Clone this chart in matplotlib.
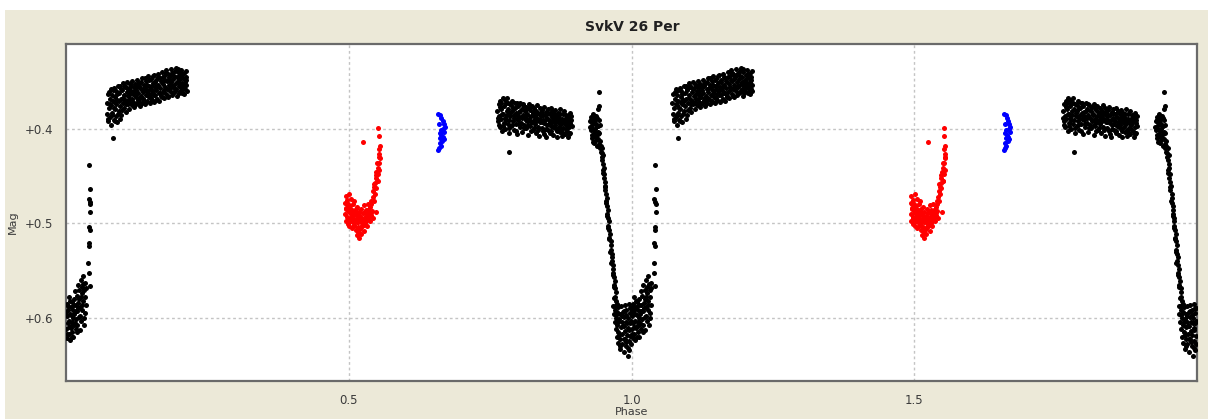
import numpy as np
import matplotlib
matplotlib.use("Agg")
import matplotlib.pyplot as plt
from matplotlib.patches import Rectangle

# Phase-folded light curve of SvkV 26 Per, phases in [0, 1), (phase, mag)
# Primary minimum, wrapping across phase 0
trough = [
    (0.968, 0.588), (0.969, 0.596), (0.970, 0.605), (0.971, 0.592), (0.972, 0.612),
    (0.973, 0.600), (0.974, 0.620), (0.975, 0.594), (0.975, 0.608), (0.976, 0.627),
    (0.977, 0.589), (0.977, 0.615), (0.978, 0.601), (0.979, 0.633), (0.980, 0.596),
    (0.980, 0.622), (0.981, 0.610), (0.982, 0.588), (0.983, 0.628), (0.983, 0.604),
    (0.984, 0.617), (0.985, 0.594), (0.986, 0.636), (0.986, 0.609), (0.987, 0.599),
    (0.988, 0.623), (0.988, 0.587), (0.989, 0.614), (0.990, 0.604), (0.991, 0.630),
    (0.991, 0.592), (0.992, 0.618), (0.993, 0.640), (0.993, 0.600), (0.994, 0.611),
    (0.995, 0.625), (0.995, 0.585), (0.996, 0.634), (0.997, 0.606), (0.997, 0.595),
    (0.998, 0.619), (0.999, 0.628), (0.999, 0.590),
    (0.9725, 0.597), (0.9745, 0.585), (0.9765, 0.604), (0.9785, 0.618), (0.9805, 0.630),
    (0.9825, 0.598), (0.9845, 0.609), (0.9865, 0.622), (0.9875, 0.593), (0.9895, 0.626),
    (0.9905, 0.597), (0.9925, 0.606), (0.9945, 0.632), (0.9955, 0.613), (0.9965, 0.590),
    (0.9985, 0.603),
    (0.000, 0.612), (0.001, 0.598), (0.002, 0.621), (0.002, 0.585), (0.003, 0.606),
    (0.004, 0.592), (0.005, 0.617), (0.005, 0.578), (0.006, 0.603), (0.007, 0.624),
    (0.008, 0.589), (0.008, 0.611), (0.009, 0.597), (0.010, 0.583), (0.011, 0.615),
    (0.011, 0.604), (0.012, 0.592), (0.013, 0.620), (0.014, 0.580), (0.014, 0.608),
    (0.015, 0.596), (0.016, 0.572), (0.017, 0.612), (0.017, 0.586), (0.018, 0.601),
    (0.019, 0.577), (0.020, 0.593), (0.020, 0.608), (0.021, 0.565), (0.022, 0.584),
    (0.023, 0.599), (0.023, 0.571), (0.024, 0.613), (0.025, 0.589), (0.026, 0.560),
    (0.026, 0.578), (0.027, 0.603), (0.028, 0.567), (0.029, 0.592), (0.030, 0.556),
    (0.030, 0.582), (0.031, 0.608), (0.032, 0.571), (0.033, 0.595), (0.034, 0.563),
    (0.035, 0.586),
    (0.0005, 0.594), (0.0015, 0.617), (0.0035, 0.588), (0.0045, 0.610), (0.0065, 0.596),
    (0.0075, 0.582), (0.0095, 0.609), (0.0105, 0.620), (0.0125, 0.600), (0.0135, 0.587),
    (0.0155, 0.606), (0.0175, 0.593), (0.0195, 0.615), (0.0215, 0.590), (0.0235, 0.580),
    (0.0255, 0.598), (0.0275, 0.574), (0.0285, 0.587), (0.0305, 0.564), (0.0325, 0.600),
    (0.0335, 0.578), (0.0345, 0.569),
]

# Fast rise out of the minimum
rise = [
    (0.041, 0.438), (0.043, 0.464), (0.040, 0.474), (0.042, 0.477), (0.043, 0.480),
    (0.043, 0.488), (0.041, 0.504), (0.042, 0.507), (0.040, 0.521), (0.041, 0.524),
    (0.039, 0.542), (0.040, 0.553), (0.042, 0.566),
]

# Maximum after the primary minimum
maximum = [
    (0.072, 0.372), (0.073, 0.384), (0.074, 0.363), (0.075, 0.392), (0.076, 0.378),
    (0.077, 0.368), (0.078, 0.387), (0.079, 0.358), (0.080, 0.396), (0.080, 0.375),
    (0.081, 0.364), (0.082, 0.383), (0.083, 0.410), (0.083, 0.370), (0.084, 0.390),
    (0.085, 0.357), (0.086, 0.379), (0.087, 0.366), (0.088, 0.386), (0.088, 0.360),
    (0.089, 0.374), (0.090, 0.393), (0.091, 0.369), (0.092, 0.355), (0.093, 0.381),
    (0.094, 0.362), (0.095, 0.376), (0.096, 0.354), (0.097, 0.368), (0.098, 0.385),
    (0.099, 0.359), (0.100, 0.373), (0.101, 0.351), (0.102, 0.364), (0.103, 0.378),
    (0.104, 0.356), (0.105, 0.369), (0.106, 0.382), (0.107, 0.361), (0.108, 0.350),
    (0.109, 0.374), (0.110, 0.365), (0.111, 0.357), (0.112, 0.379), (0.113, 0.352),
    (0.114, 0.368), (0.115, 0.360), (0.116, 0.375), (0.117, 0.349), (0.118, 0.363),
    (0.119, 0.371), (0.120, 0.356), (0.121, 0.377), (0.122, 0.352), (0.123, 0.366),
    (0.124, 0.359), (0.125, 0.373), (0.126, 0.348), (0.127, 0.362), (0.128, 0.369),
    (0.129, 0.355), (0.130, 0.376), (0.131, 0.351), (0.132, 0.365), (0.133, 0.358),
    (0.134, 0.372), (0.135, 0.346), (0.136, 0.361), (0.137, 0.368), (0.138, 0.353),
    (0.139, 0.374), (0.140, 0.357), (0.141, 0.364), (0.142, 0.349), (0.143, 0.370),
    (0.144, 0.360), (0.145, 0.344), (0.146, 0.366), (0.147, 0.354), (0.148, 0.373),
    (0.149, 0.358), (0.150, 0.347), (0.151, 0.363), (0.152, 0.369), (0.153, 0.351),
    (0.154, 0.360), (0.155, 0.343), (0.156, 0.371), (0.157, 0.356), (0.158, 0.364),
    (0.159, 0.348), (0.160, 0.359), (0.161, 0.368), (0.162, 0.342), (0.163, 0.353),
    (0.164, 0.362), (0.165, 0.370), (0.166, 0.346), (0.167, 0.357), (0.168, 0.365),
    (0.169, 0.350), (0.170, 0.340), (0.171, 0.361), (0.172, 0.352), (0.173, 0.367),
    (0.174, 0.344), (0.175, 0.356), (0.176, 0.338), (0.177, 0.363), (0.178, 0.349),
    (0.179, 0.358), (0.180, 0.342), (0.181, 0.366), (0.182, 0.353), (0.183, 0.345),
    (0.184, 0.360), (0.185, 0.336), (0.186, 0.350), (0.187, 0.364), (0.188, 0.341),
    (0.189, 0.356), (0.190, 0.347), (0.191, 0.361), (0.192, 0.339), (0.193, 0.352),
    (0.194, 0.335), (0.195, 0.358), (0.196, 0.345), (0.197, 0.365), (0.198, 0.340),
    (0.199, 0.354), (0.200, 0.348), (0.201, 0.360), (0.202, 0.343), (0.203, 0.356),
    (0.204, 0.338), (0.205, 0.351), (0.206, 0.362), (0.207, 0.346), (0.208, 0.355),
    (0.209, 0.341), (0.210, 0.350), (0.211, 0.358), (0.212, 0.345), (0.213, 0.353),
    (0.0745, 0.389), (0.0765, 0.361), (0.0785, 0.374), (0.0805, 0.385), (0.0825, 0.359),
    (0.0845, 0.378), (0.0865, 0.392), (0.0875, 0.371), (0.0895, 0.363), (0.0915, 0.384),
    (0.0935, 0.370), (0.0955, 0.389), (0.0975, 0.358), (0.0995, 0.380), (0.1015, 0.367),
    (0.1035, 0.355), (0.1055, 0.374), (0.1075, 0.370), (0.1095, 0.358), (0.1115, 0.372),
    (0.1135, 0.363), (0.1155, 0.354), (0.1175, 0.368), (0.1195, 0.360), (0.1215, 0.364),
    (0.1235, 0.374), (0.1255, 0.356), (0.1275, 0.352), (0.1295, 0.367), (0.1315, 0.372),
    (0.1335, 0.350), (0.1355, 0.368), (0.1375, 0.357), (0.1395, 0.346), (0.1415, 0.371),
    (0.1435, 0.353), (0.1455, 0.362), (0.1475, 0.348), (0.1495, 0.367), (0.1515, 0.355),
    (0.1535, 0.344), (0.1555, 0.364), (0.1575, 0.350), (0.1595, 0.369), (0.1615, 0.355),
    (0.1635, 0.345), (0.1655, 0.362), (0.1675, 0.349), (0.1695, 0.366), (0.1715, 0.345),
    (0.1735, 0.359), (0.1755, 0.348), (0.1775, 0.341), (0.1795, 0.365), (0.1815, 0.347),
    (0.1835, 0.357), (0.1855, 0.343), (0.1875, 0.355), (0.1895, 0.362), (0.1915, 0.344),
    (0.1935, 0.360), (0.1955, 0.350), (0.1975, 0.337), (0.1995, 0.362), (0.2015, 0.352),
    (0.2035, 0.346), (0.2055, 0.342), (0.2075, 0.358), (0.2095, 0.363), (0.2115, 0.348),
    (0.2125, 0.339), (0.2135, 0.360),
]

# Plateau before the primary minimum
plateau = [
    (0.763, 0.381), (0.764, 0.392), (0.765, 0.374), (0.766, 0.386), (0.767, 0.398),
    (0.768, 0.370), (0.769, 0.389), (0.770, 0.379), (0.771, 0.402), (0.772, 0.367),
    (0.773, 0.384), (0.774, 0.394), (0.775, 0.376), (0.776, 0.388), (0.777, 0.400),
    (0.778, 0.372), (0.779, 0.385), (0.780, 0.367), (0.781, 0.395), (0.782, 0.379),
    (0.783, 0.424), (0.783, 0.390), (0.784, 0.404), (0.785, 0.374), (0.786, 0.386),
    (0.787, 0.397), (0.788, 0.381), (0.789, 0.370), (0.790, 0.392), (0.791, 0.378),
    (0.792, 0.401), (0.793, 0.385), (0.794, 0.373), (0.795, 0.395), (0.796, 0.383),
    (0.797, 0.389), (0.798, 0.405), (0.799, 0.376), (0.800, 0.391), (0.801, 0.382),
    (0.802, 0.398), (0.803, 0.372), (0.804, 0.387), (0.805, 0.394), (0.806, 0.379),
    (0.807, 0.403), (0.808, 0.385), (0.809, 0.375), (0.810, 0.396), (0.811, 0.388),
    (0.812, 0.381), (0.813, 0.399), (0.814, 0.377), (0.815, 0.392), (0.816, 0.384),
    (0.817, 0.406), (0.818, 0.374), (0.819, 0.389), (0.820, 0.397), (0.821, 0.380),
    (0.822, 0.393), (0.823, 0.386), (0.824, 0.376), (0.825, 0.401), (0.826, 0.383),
    (0.827, 0.391), (0.828, 0.378), (0.829, 0.395), (0.830, 0.387), (0.831, 0.404),
    (0.832, 0.381), (0.833, 0.375), (0.834, 0.398), (0.835, 0.389), (0.836, 0.384),
    (0.837, 0.407), (0.838, 0.378), (0.839, 0.393), (0.840, 0.386), (0.841, 0.399),
    (0.842, 0.380), (0.843, 0.390), (0.844, 0.402), (0.845, 0.377), (0.846, 0.394),
    (0.847, 0.385), (0.848, 0.408), (0.849, 0.382), (0.850, 0.396), (0.851, 0.388),
    (0.852, 0.379), (0.853, 0.401), (0.854, 0.391), (0.855, 0.384), (0.856, 0.404),
    (0.857, 0.378), (0.858, 0.397), (0.859, 0.387), (0.860, 0.393), (0.861, 0.382),
    (0.862, 0.406), (0.863, 0.389), (0.864, 0.396), (0.865, 0.380), (0.866, 0.400),
    (0.867, 0.386), (0.868, 0.409), (0.869, 0.392), (0.870, 0.383), (0.871, 0.398),
    (0.872, 0.388), (0.873, 0.403), (0.874, 0.379), (0.875, 0.395), (0.876, 0.390),
    (0.877, 0.407), (0.878, 0.384), (0.879, 0.399), (0.880, 0.392), (0.881, 0.381),
    (0.882, 0.405), (0.883, 0.389), (0.884, 0.396), (0.885, 0.385), (0.886, 0.402),
    (0.887, 0.393), (0.888, 0.408), (0.889, 0.387), (0.890, 0.398), (0.891, 0.383),
    (0.892, 0.404), (0.893, 0.391), (0.894, 0.397),
    (0.7635, 0.388), (0.7655, 0.396), (0.7675, 0.377), (0.7695, 0.372), (0.7715, 0.384),
    (0.7735, 0.397), (0.7755, 0.369), (0.7775, 0.391), (0.7795, 0.381), (0.7815, 0.372),
    (0.7835, 0.399), (0.7855, 0.383), (0.7875, 0.375), (0.7895, 0.396), (0.7915, 0.388),
    (0.7935, 0.378), (0.7955, 0.402), (0.7975, 0.372), (0.7995, 0.386), (0.8015, 0.395),
    (0.8035, 0.381), (0.8055, 0.388), (0.8075, 0.374), (0.8095, 0.399), (0.8115, 0.380),
    (0.8135, 0.390), (0.8155, 0.385), (0.8175, 0.396), (0.8195, 0.378), (0.8215, 0.402),
    (0.8235, 0.393), (0.8255, 0.382), (0.8275, 0.399), (0.8295, 0.386), (0.8315, 0.392),
    (0.8335, 0.383), (0.8355, 0.401), (0.8375, 0.390), (0.8395, 0.382), (0.8415, 0.393),
    (0.8435, 0.385), (0.8455, 0.405), (0.8475, 0.391), (0.8495, 0.400), (0.8515, 0.383),
    (0.8535, 0.395), (0.8555, 0.392), (0.8575, 0.402), (0.8595, 0.381), (0.8615, 0.398),
    (0.8635, 0.384), (0.8655, 0.393), (0.8675, 0.402), (0.8695, 0.386), (0.8715, 0.394),
    (0.8735, 0.384), (0.8755, 0.401), (0.8775, 0.389), (0.8795, 0.404), (0.8815, 0.394),
    (0.8835, 0.400), (0.8855, 0.390), (0.8875, 0.386), (0.8895, 0.405), (0.8915, 0.394),
    (0.8935, 0.386),
]

# Ingress of the primary minimum
ingress_top = [
    (0.927, 0.392), (0.928, 0.401), (0.929, 0.387), (0.930, 0.410), (0.931, 0.396),
    (0.932, 0.384), (0.933, 0.405), (0.934, 0.415), (0.935, 0.391), (0.936, 0.400),
    (0.937, 0.408), (0.938, 0.386), (0.939, 0.418), (0.940, 0.397), (0.941, 0.411),
    (0.942, 0.390), (0.943, 0.404), (0.944, 0.420), (0.945, 0.413), (0.946, 0.424),
    (0.930, 0.399), (0.934, 0.388), (0.937, 0.395), (0.940, 0.405), (0.943, 0.416),
    (0.942, 0.361), (0.943, 0.376), (0.941, 0.379),
    (0.9265, 0.398), (0.9285, 0.390), (0.9295, 0.406), (0.9315, 0.414), (0.9325, 0.393),
    (0.9345, 0.402), (0.9365, 0.412), (0.9385, 0.397), (0.9395, 0.388), (0.9415, 0.403),
    (0.9435, 0.396), (0.9455, 0.418), (0.9475, 0.430), (0.9485, 0.420),
]
ingress = [
    (0.947, 0.425), (0.950, 0.428), (0.948, 0.433), (0.950, 0.437), (0.951, 0.441),
    (0.949, 0.444), (0.952, 0.448), (0.951, 0.452), (0.953, 0.456), (0.954, 0.460),
    (0.953, 0.465), (0.955, 0.469), (0.956, 0.473), (0.955, 0.478), (0.957, 0.482),
    (0.958, 0.486), (0.957, 0.490), (0.959, 0.494), (0.960, 0.498), (0.959, 0.503),
    (0.961, 0.507), (0.962, 0.511), (0.961, 0.515), (0.963, 0.519), (0.964, 0.523),
    (0.963, 0.528), (0.965, 0.532), (0.966, 0.536), (0.965, 0.540), (0.967, 0.544),
    (0.968, 0.548), (0.967, 0.553), (0.969, 0.557), (0.970, 0.561), (0.969, 0.565),
    (0.971, 0.569), (0.972, 0.573), (0.971, 0.578), (0.973, 0.582), (0.974, 0.586),
    (0.9495, 0.447), (0.9525, 0.462), (0.9545, 0.476), (0.9575, 0.492), (0.9585, 0.505),
    (0.9605, 0.517), (0.9625, 0.530), (0.9635, 0.542), (0.9665, 0.555), (0.9685, 0.567),
    (0.9695, 0.579), (0.9715, 0.588),
]

# Secondary minimum (red set)
red_points = [
    (0.494, 0.478), (0.494, 0.490), (0.495, 0.471), (0.495, 0.498), (0.496, 0.484),
    (0.497, 0.493), (0.497, 0.475), (0.498, 0.501), (0.499, 0.487), (0.499, 0.480),
    (0.500, 0.495), (0.501, 0.469), (0.501, 0.503), (0.502, 0.489), (0.503, 0.482),
    (0.503, 0.497), (0.504, 0.474), (0.505, 0.492), (0.505, 0.505), (0.506, 0.486),
    (0.507, 0.499), (0.508, 0.480), (0.508, 0.494), (0.509, 0.488), (0.510, 0.502),
    (0.510, 0.476), (0.511, 0.496), (0.512, 0.485), (0.512, 0.507), (0.513, 0.491),
    (0.514, 0.499), (0.514, 0.512), (0.515, 0.483), (0.516, 0.494), (0.516, 0.504),
    (0.517, 0.509), (0.518, 0.488), (0.518, 0.515), (0.519, 0.498), (0.520, 0.492),
    (0.520, 0.506), (0.521, 0.511), (0.522, 0.485), (0.523, 0.500), (0.523, 0.495),
    (0.524, 0.503), (0.525, 0.489), (0.526, 0.497), (0.527, 0.481), (0.527, 0.508),
    (0.528, 0.493), (0.529, 0.500), (0.530, 0.486), (0.531, 0.496), (0.532, 0.503),
    (0.533, 0.490), (0.534, 0.479), (0.535, 0.494), (0.536, 0.487), (0.537, 0.498),
    (0.538, 0.483), (0.539, 0.491), (0.540, 0.476), (0.541, 0.487), (0.542, 0.494),
    (0.4955, 0.485), (0.4965, 0.479), (0.4985, 0.494), (0.5005, 0.484), (0.5025, 0.497),
    (0.5045, 0.488), (0.5065, 0.494), (0.5085, 0.503), (0.5105, 0.490), (0.5125, 0.497),
    (0.5145, 0.489), (0.5165, 0.499), (0.5185, 0.506), (0.5205, 0.498), (0.5225, 0.504),
    (0.5245, 0.495), (0.5265, 0.502), (0.5285, 0.488), (0.5305, 0.493), (0.5325, 0.496),
    (0.5345, 0.486), (0.5365, 0.492), (0.5385, 0.488),
    (0.540, 0.480), (0.542, 0.472), (0.543, 0.466), (0.544, 0.476), (0.545, 0.462),
    (0.546, 0.469), (0.547, 0.457), (0.548, 0.463), (0.548, 0.452), (0.549, 0.446),
    (0.550, 0.455), (0.551, 0.441), (0.552, 0.448), (0.553, 0.436), (0.554, 0.443),
    (0.555, 0.431), (0.554, 0.426), (0.553, 0.421), (0.555, 0.418), (0.553, 0.407),
    (0.552, 0.399), (0.549, 0.488), (0.525, 0.414),
    (0.5445, 0.458), (0.5475, 0.449), (0.5505, 0.436), (0.5535, 0.430), (0.5515, 0.455),
]

# Short run near phase 0.66 (blue set)
blue_points = [
    (0.658, 0.384), (0.662, 0.385), (0.664, 0.388), (0.666, 0.392), (0.668, 0.395),
    (0.670, 0.398), (0.667, 0.400), (0.663, 0.401), (0.661, 0.404), (0.664, 0.406),
    (0.666, 0.409), (0.668, 0.411), (0.665, 0.413), (0.661, 0.415), (0.663, 0.418),
    (0.660, 0.420), (0.658, 0.422), (0.662, 0.410), (0.669, 0.403), (0.660, 0.395),
]

mag_ticks = [0.4, 0.5, 0.6]
mag_labels = ["+0.4", "+0.5", "+0.6"]
phase_ticks = [0.5, 1.0, 1.5]
phase_labels = ["0.5", "1.0", "1.5"]

BEIGE = "#ECE9D8"

fig = plt.figure(figsize=(12.08, 4.19), dpi=100, facecolor="white")
fig.patches.append(Rectangle((5 / 1208, 0), 1, (419 - 10) / 419,
                             transform=fig.transFigure, facecolor=BEIGE,
                             edgecolor="none", zorder=-10))

ax = fig.add_axes([66 / 1208, 38 / 419, 1131 / 1208, 337 / 419])
ax.set_facecolor("white")


def draw(points, color):
    arr = np.array(points)
    for shift in (0.0, 1.0):
        ax.scatter(arr[:, 0] + shift, arr[:, 1], s=13, c=color,
                   linewidths=0, zorder=3)


draw(trough + rise + maximum + plateau + ingress_top + ingress, "black")
draw(red_points, "#FF0000")
draw(blue_points, "#0000FF")

ax.set_xlim(0, 2)
ax.set_ylim(0.667, 0.31)

ax.set_xticks(phase_ticks)
ax.set_xticklabels(phase_labels)
ax.set_yticks(mag_ticks)
ax.set_yticklabels(mag_labels)
ax.tick_params(axis="both", length=0, labelsize=8.5, labelcolor="#3a3a3a")
ax.tick_params(axis="y", pad=9)
ax.tick_params(axis="x", pad=9)

ax.grid(True, color="#c4c4c4", linestyle=(0, (2, 2)), linewidth=1, zorder=0)
ax.set_axisbelow(True)

for side in ("left", "right", "top", "bottom"):
    ax.spines[side].set_color("#6a6a6a")
    ax.spines[side].set_linewidth(1.6)

fig.text(632 / 1208, 1 - 27 / 419, "SvkV 26 Per", ha="center", va="center",
         fontsize=10, fontweight="bold", color="#202020")
fig.text(13 / 1208, 1 - 222 / 419, "Mag", ha="center", va="center",
         rotation=90, fontsize=8, color="#3a3a3a")
fig.text(632 / 1208, 1 - 412 / 419, "Phase", ha="center", va="center",
         fontsize=8, color="#3a3a3a")

fig.savefig("out.png", dpi=100, facecolor=fig.get_facecolor())
